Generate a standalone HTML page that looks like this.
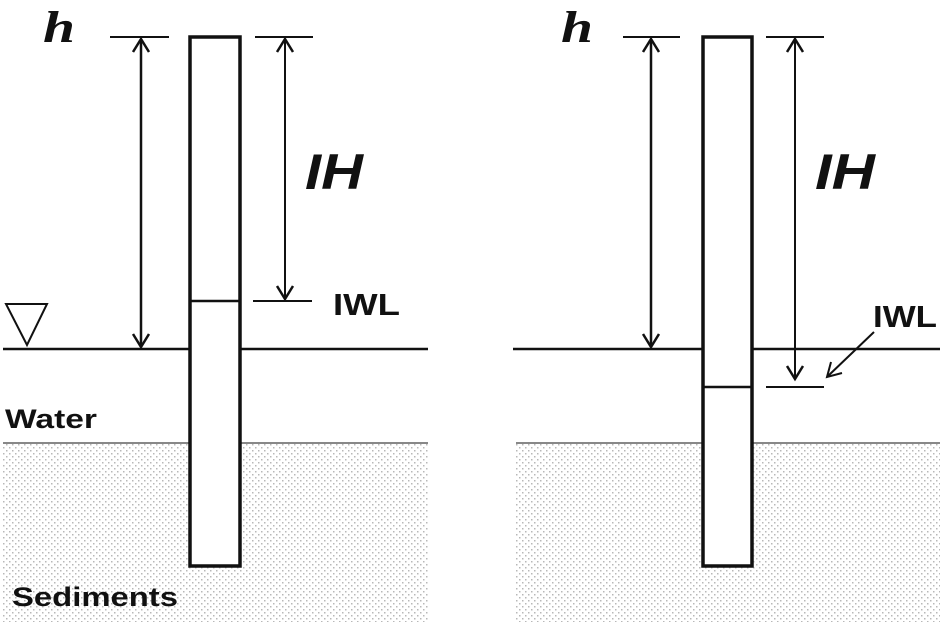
<!DOCTYPE html>
<html><head><meta charset="utf-8"><style>
html,body{margin:0;padding:0;background:#fff;}
svg{display:block;}
</style></head><body>
<svg width="943" height="622" viewBox="0 0 943 622" xmlns="http://www.w3.org/2000/svg">
<defs>
<pattern id="dots" width="6" height="6" patternUnits="userSpaceOnUse">
<rect x="0" y="0" width="1.5" height="1.5" fill="#b8b8b8"/>
<rect x="3" y="3" width="1.5" height="1.5" fill="#b8b8b8"/>
</pattern>
</defs>
<g>
<rect x="3" y="443" width="425" height="179" fill="url(#dots)"/>
<rect x="516" y="443" width="424" height="179" fill="url(#dots)"/>
<line x1="3" y1="443" x2="428" y2="443" stroke="#888" stroke-width="2"/>
<line x1="516" y1="443" x2="940" y2="443" stroke="#888" stroke-width="2"/>
</g>
<g stroke="#111" fill="none">
<line x1="3" y1="349" x2="428" y2="349" stroke-width="2.5"/>
<rect x="190" y="37" width="50" height="529" fill="#fff" stroke-width="3.5"/>
<line x1="190" y1="301" x2="240" y2="301" stroke-width="2.5"/>
<polygon points="6,304 47,304 27,345" stroke-width="2"/>
<line x1="110" y1="37" x2="169" y2="37" stroke-width="2"/>
<line x1="141" y1="39" x2="141" y2="347" stroke-width="2.5"/>
<polyline points="133,52 141,39 149,52" stroke-width="2.5"/>
<polyline points="133,334 141,347 149,334" stroke-width="2.5"/>
<line x1="255" y1="37" x2="313" y2="37" stroke-width="2"/>
<line x1="253" y1="301" x2="312" y2="301" stroke-width="2"/>
<line x1="285" y1="39" x2="285" y2="299" stroke-width="2"/>
<polyline points="277,52 285,39 293,52" stroke-width="2.5"/>
<polyline points="277,286 285,299 293,286" stroke-width="2.5"/>
<line x1="513" y1="349" x2="940" y2="349" stroke-width="2.5"/>
<rect x="703" y="37" width="49" height="529" fill="#fff" stroke-width="3.5"/>
<line x1="703" y1="387" x2="752" y2="387" stroke-width="2.5"/>
<line x1="623" y1="37" x2="680" y2="37" stroke-width="2"/>
<line x1="651" y1="39" x2="651" y2="347" stroke-width="2.5"/>
<polyline points="643,52 651,39 659,52" stroke-width="2.5"/>
<polyline points="643,334 651,347 659,334" stroke-width="2.5"/>
<line x1="766" y1="37" x2="824" y2="37" stroke-width="2"/>
<line x1="766" y1="387" x2="824" y2="387" stroke-width="2"/>
<line x1="795" y1="39" x2="795" y2="379" stroke-width="2"/>
<polyline points="787,52 795,39 803,52" stroke-width="2.5"/>
<polyline points="787,366 795,379 803,366" stroke-width="2.5"/>
<line x1="874" y1="332" x2="828" y2="376" stroke-width="2"/>
<polyline points="831,362 827,377 842,373" stroke-width="2"/>
</g>
<g fill="#111" font-family="Liberation Sans, sans-serif" font-weight="bold">
<text x="43" y="42" font-family="Liberation Serif, serif" font-style="italic" font-size="44" textLength="32" lengthAdjust="spacingAndGlyphs">h</text>
<text x="561" y="42" font-family="Liberation Serif, serif" font-style="italic" font-size="44" textLength="32" lengthAdjust="spacingAndGlyphs">h</text>
<text x="305" y="189" font-style="italic" font-size="50" textLength="58" lengthAdjust="spacingAndGlyphs">IH</text>
<text x="815" y="189" font-style="italic" font-size="50" textLength="60" lengthAdjust="spacingAndGlyphs">IH</text>
<text x="333" y="315" font-size="31" textLength="67" lengthAdjust="spacingAndGlyphs">IWL</text>
<text x="873" y="327" font-size="31" textLength="64" lengthAdjust="spacingAndGlyphs">IWL</text>
<text x="5" y="428" font-size="27" textLength="92" lengthAdjust="spacingAndGlyphs">Water</text>
<text x="12" y="606" font-size="27" textLength="166" lengthAdjust="spacingAndGlyphs">Sediments</text>
</g>
</svg>
</body></html>
